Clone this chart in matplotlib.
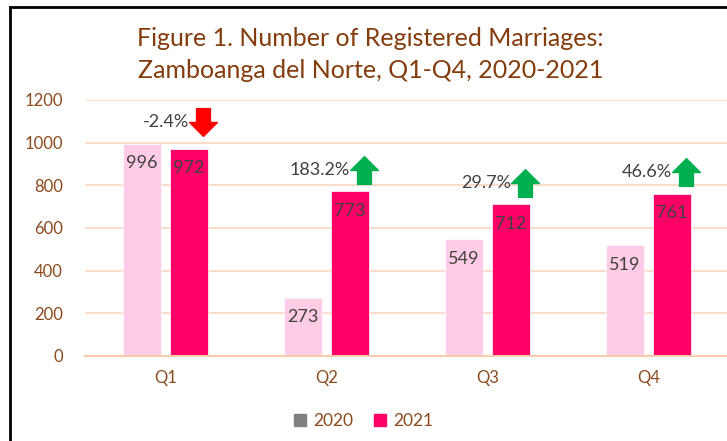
import numpy as np
import matplotlib.pyplot as plt
from matplotlib.path import Path
from matplotlib.patches import Rectangle

# Data
quarters = ["Q1", "Q2", "Q3", "Q4"]
marriages_2020 = [996, 273, 549, 519]
marriages_2021 = [972, 773, 712, 761]
change_labels = ["-2.4%", "183.2%", "29.7%", "46.6%"]

brown = "#8B4A1E"
grid_col = "#F8D5C0"
c2020 = "#FFCCE5"
c2021 = "#FF0066"

plt.rcParams['font.family'] = ['Lato', 'DejaVu Sans']

fig = plt.figure(figsize=(7.27, 4.41), dpi=100)
ax = fig.add_axes([85 / 727, 85 / 441, 644 / 727, 256 / 441])

x = np.arange(len(quarters))
w = 0.236
off = 0.145
b1 = ax.bar(x - off, marriages_2020, w, color=c2020, edgecolor="white", linewidth=0.5, zorder=2)
b2 = ax.bar(x + off, marriages_2021, w, color=c2021, edgecolor="white", linewidth=0.5, zorder=2)

for rects, vals in ((b1, marriages_2020), (b2, marriages_2021)):
    for r, v in zip(rects, vals):
        ax.text(r.get_x() + r.get_width() / 2, v - 92, str(v), ha="center", va="center",
                fontsize=13, color="#404040", zorder=3)

# block arrow marker
up_arrow = Path([(-0.25, -0.5), (0.25, -0.5), (0.25, 0.0), (0.5, 0.0), (0.0, 0.5),
                 (-0.5, 0.0), (-0.25, 0.0), (-0.25, -0.5)], closed=True)
down_arrow = Path([(-0.25, 0.5), (0.25, 0.5), (0.25, 0.0), (0.5, 0.0), (0.0, -0.5),
                   (-0.5, 0.0), (-0.25, 0.0), (-0.25, 0.5)], closed=True)

for i, lab in enumerate(change_labels):
    y = max(marriages_2020[i], marriages_2021[i]) + 100
    xa = x[i] + 0.23
    up = marriages_2021[i] >= marriages_2020[i]
    ax.plot(xa, y, marker=up_arrow if up else down_arrow, markersize=20,
            color="#00B050" if up else "#FF0000", linestyle="none", zorder=4, clip_on=False)
    ax.text(xa - 0.085, y, lab, ha="right", va="center", fontsize=13, color="#404040", zorder=4)

ax.set_xlim(-0.5, 3.5)
ax.set_ylim(0, 1200)
ax.set_yticks(range(0, 1201, 200))
ax.set_xticks(x)
ax.set_xticklabels(quarters)
ax.grid(axis="y", color=grid_col, linewidth=1.2, zorder=0)
ax.set_axisbelow(True)
for s in ("top", "right", "left"):
    ax.spines[s].set_visible(False)
ax.spines["bottom"].set_color("#F8CBAD")
ax.spines["bottom"].set_linewidth(1.5)
ax.tick_params(axis="both", length=0, labelsize=12, labelcolor=brown)
ax.tick_params(axis="y", pad=16)
ax.tick_params(axis="x", pad=10)

fig.text(0.51, 1 - 38 / 441, "Figure 1. Number of Registered Marriages:", ha="center", va="center",
         fontsize=18, color="#843C0C")
fig.text(0.51, 1 - 70 / 441, "Zamboanga del Norte, Q1-Q4, 2020-2021", ha="center", va="center",
         fontsize=18, color="#843C0C")

# legend
h1 = Rectangle((0, 0), 1, 1, color="#808080")
h2 = Rectangle((0, 0), 1, 1, color=c2021)
fig.legend([h1, h2], ["2020", "2021"], loc="center", bbox_to_anchor=(0.5, 1 - 421 / 441),
           ncol=2, frameon=False, fontsize=12.5, labelcolor=brown, handlelength=0.7,
           handleheight=0.7, handletextpad=0.4, columnspacing=1.2)

# frame around the chart (left and top edges visible)
fig.add_artist(plt.Line2D([10 / 727, 10 / 727], [0, 1 - 7 / 441], color="black", linewidth=2))
fig.add_artist(plt.Line2D([10 / 727, 1], [1 - 7 / 441, 1 - 7 / 441], color="black", linewidth=2))

fig.savefig("out.png", dpi=100)
